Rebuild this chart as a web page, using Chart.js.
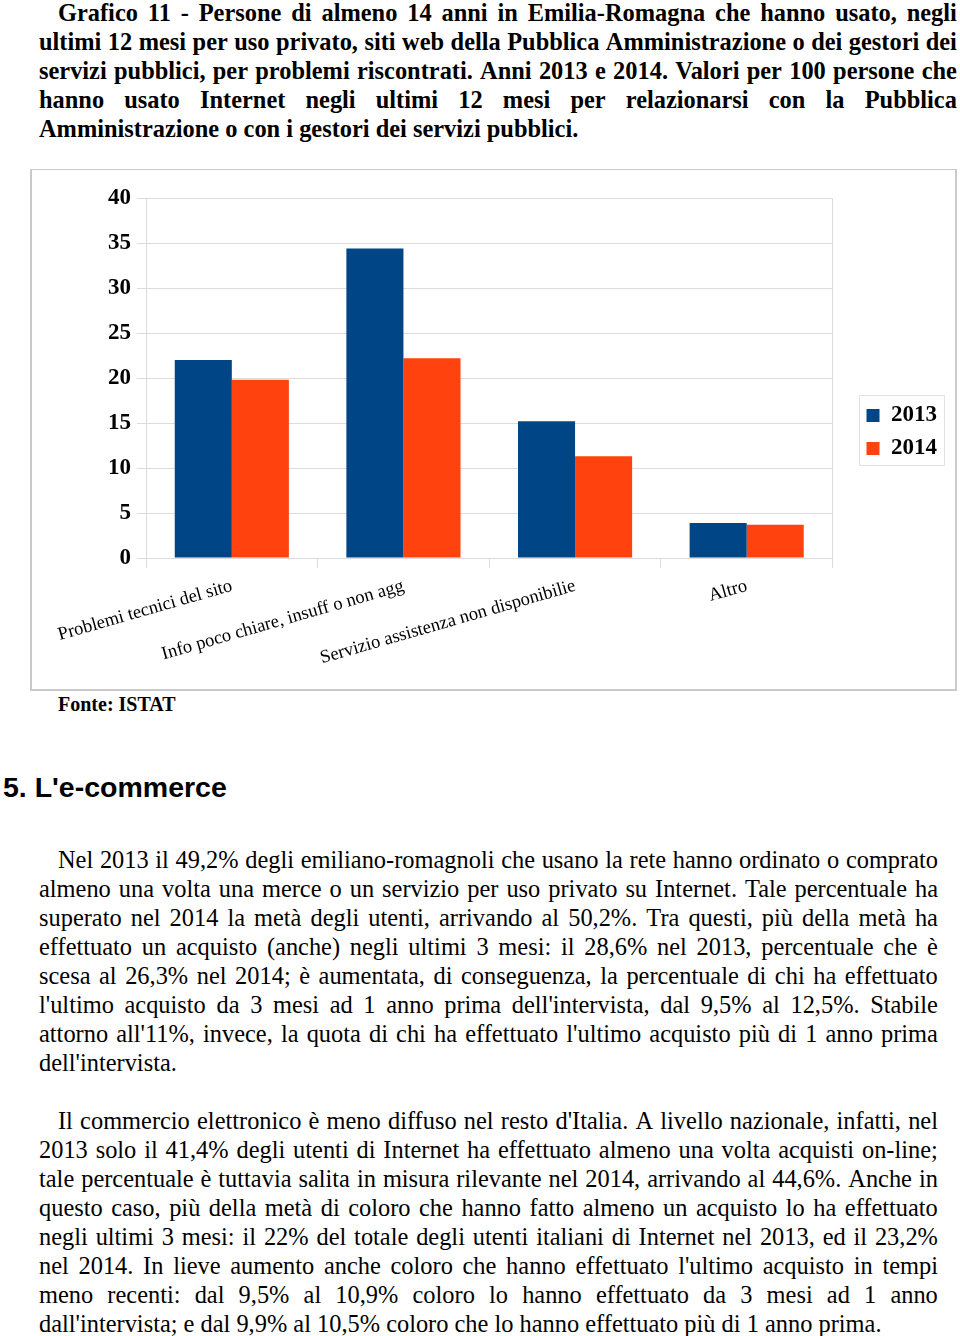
<!DOCTYPE html>
<html>
<head>
<meta charset="utf-8">
<script src="https://cdn.jsdelivr.net/npm/chart.js@4.4.0/dist/chart.umd.min.js"></script>
<style>
  body {
    margin: 0;
    width: 960px;
    height: 1336px;
    position: relative;
    overflow: hidden;
    background: #fff;
    color: #000;
    font-family: "Liberation Serif", "Times New Roman", serif;
  }
  .abs { position: absolute; }
  .line { display: flex; justify-content: space-between; white-space: pre; }
  .line.last { justify-content: flex-start; }
  #title { left: 39px; top: -2px; width: 918px; font-size: 24.4px; font-weight: bold; line-height: 29px; }
  #p1 { left: 39px; top: 845px; width: 899px; font-size: 24.4px; line-height: 29px; }
  #p2 { left: 39px; top: 1106px; width: 899px; font-size: 24.4px; line-height: 29px; }
  #chartBox {
    left: 30px; top: 169px; width: 923px; height: 519px;
    border: 2px solid #cacaca; border-top-width: 1px;
  }
  #chartWrap { left: 32px; top: 171px; width: 924px; height: 518px; }
  #fonte { left: 58px; top: 692px; font-size: 20px; font-weight: bold; line-height: 25px; }
  #heading {
    left: 3px; top: 770px; font-family: "Liberation Sans", Arial, sans-serif;
    font-size: 28.5px; font-weight: bold; line-height: 34px;
  }
</style>
</head>
<body>
<div id="title" class="abs"></div>
<div id="chartBox" class="abs"></div>
<div id="chartWrap" class="abs"><canvas id="chart"></canvas></div>
<div id="fonte" class="abs">Fonte: ISTAT</div>
<div id="heading" class="abs">5. L'e-commerce</div>
<div id="p1" class="abs"></div>
<div id="p2" class="abs"></div>

<script>
// --- chart data ---
const categories = [
    'Problemi tecnici del sito',
    'Info poco chiare, insuff o non agg',
    'Servizio assistenza non disponibilie',
    'Altro'
];
const seriesNames = ['2013', '2014'];
const values2013 = [22.0, 34.4, 15.2, 3.9];
const values2014 = [19.8, 22.2, 11.3, 3.7];
const yMin = 0;
const yMax = 40;
const yStep = 5;

// --- page text, one entry per printed line ---
const titleLines = [
    'Grafico 11 - Persone di almeno 14 anni in Emilia-Romagna che hanno usato, negli',
    'ultimi 12 mesi per uso privato, siti web della Pubblica Amministrazione o dei gestori dei',
    'servizi pubblici, per problemi riscontrati. Anni 2013 e 2014. Valori per 100 persone che',
    'hanno usato Internet negli ultimi 12 mesi per relazionarsi con la Pubblica',
    'Amministrazione o con i gestori dei servizi pubblici.'
];
const para1Lines = [
    'Nel 2013 il 49,2% degli emiliano-romagnoli che usano la rete hanno ordinato o comprato',
    'almeno una volta una merce o un servizio per uso privato su Internet. Tale percentuale ha',
    'superato nel 2014 la metà degli utenti, arrivando al 50,2%. Tra questi, più della metà ha',
    'effettuato un acquisto (anche) negli ultimi 3 mesi: il 28,6% nel 2013, percentuale che è',
    'scesa al 26,3% nel 2014; è aumentata, di conseguenza, la percentuale di chi ha effettuato',
    "l'ultimo acquisto da 3 mesi ad 1 anno prima dell'intervista, dal 9,5% al 12,5%. Stabile",
    "attorno all'11%, invece, la quota di chi ha effettuato l'ultimo acquisto più di 1 anno prima",
    "dell'intervista."
];
const para2Lines = [
    "Il commercio elettronico è meno diffuso nel resto d'Italia. A livello nazionale, infatti, nel",
    '2013 solo il 41,4% degli utenti di Internet ha effettuato almeno una volta acquisti on-line;',
    'tale percentuale è tuttavia salita in misura rilevante nel 2014, arrivando al 44,6%. Anche in',
    'questo caso, più della metà di coloro che hanno fatto almeno un acquisto lo ha effettuato',
    'negli ultimi 3 mesi: il 22% del totale degli utenti italiani di Internet nel 2013, ed il 23,2%',
    "nel 2014. In lieve aumento anche coloro che hanno effettuato l'ultimo acquisto in tempi",
    'meno recenti: dal 9,5% al 10,9% coloro lo hanno effettuato da 3 mesi ad 1 anno',
    "dall'intervista; e dal 9,9% al 10,5% coloro che lo hanno effettuato più di 1 anno prima."
];

// builds justified lines: every line but the last is spread to full width
function fillLines(id, lines, indent) {
    const box = document.getElementById(id);
    lines.forEach((text, i) => {
        const row = document.createElement('div');
        const isLast = i === lines.length - 1;
        row.className = isLast ? 'line last' : 'line';
        if (i === 0) row.style.paddingLeft = indent + 'px';
        if (isLast) {
            row.textContent = text;
        } else {
            text.split(' ').forEach(w => {
                const s = document.createElement('span');
                s.textContent = w;
                row.appendChild(s);
            });
        }
        box.appendChild(row);
    });
}
fillLines('title', titleLines, 19);
fillLines('p1', para1Lines, 19);
fillLines('p2', para2Lines, 19);

// light frame around the legend entries
const legendFrame = {
    id: 'legendFrame',
    afterDraw(chart) {
        const hits = chart.legend && chart.legend.legendHitBoxes;
        if (!hits || !hits.length) return;
        let l = Infinity, t = Infinity, r = -Infinity, b = -Infinity;
        hits.forEach(h => {
            l = Math.min(l, h.left);
            t = Math.min(t, h.top);
            r = Math.max(r, h.left + h.width);
            b = Math.max(b, h.top + h.height);
        });
        const ctx = chart.ctx;
        ctx.save();
        ctx.strokeStyle = '#e2e2e2';
        ctx.lineWidth = 1;
        ctx.strokeRect(Math.round(l - 8) + 0.5, Math.round(t - 9) + 0.5,
                       Math.round(r - l + 14), Math.round(b - t + 14));
        ctx.restore();
    }
};

const gridColor = '#dcdcdc';

new Chart(document.getElementById('chart'), {
    type: 'bar',
    data: {
        labels: categories,
        datasets: [{
            label: seriesNames[0],
            data: values2013,
            backgroundColor: '#004586',
            categoryPercentage: 0.665,
            barPercentage: 1.0
        }, {
            label: seriesNames[1],
            data: values2014,
            backgroundColor: '#ff420e',
            categoryPercentage: 0.665,
            barPercentage: 1.0
        }]
    },
    options: {
        responsive: true,
        maintainAspectRatio: false,
        animation: false,
        layout: { padding: { left: 70, right: 9, top: 27, bottom: 23 } },
        plugins: {
            tooltip: { enabled: false },
            legend: {
                position: 'right',
                align: 'center',
                labels: {
                    boxWidth: 13,
                    boxHeight: 13,
                    padding: 10,
                    color: '#000',
                    font: { family: 'Liberation Serif', size: 23, weight: 'bold' }
                }
            }
        },
        scales: {
            x: {
                grid: { drawOnChartArea: false, tickLength: 10, color: gridColor, offset: true },
                border: { color: gridColor },
                ticks: {
                    color: '#000',
                    autoSkip: false,
                    minRotation: 16,
                    maxRotation: 16,
                    padding: 7,
                    font: { family: 'Liberation Serif', size: 18.5 }
                },
                afterFit(scale) { scale.height = 108; }
            },
            y: {
                min: yMin,
                max: yMax,
                grid: { color: gridColor, tickLength: 9 },
                border: { color: gridColor },
                ticks: {
                    stepSize: yStep,
                    padding: 6,
                    color: '#000',
                    font: { family: 'Liberation Serif', size: 23, weight: 'bold' }
                },
                afterFit(scale) { scale.width = 44; }
            },
            y2: {
                position: 'right',
                min: yMin,
                max: yMax,
                grid: { drawOnChartArea: false, drawTicks: false },
                border: { color: gridColor },
                ticks: { display: false },
                afterFit(scale) { scale.width = 24; }
            }
        }
    },
    plugins: [legendFrame]
});
</script>
</body>
</html>
